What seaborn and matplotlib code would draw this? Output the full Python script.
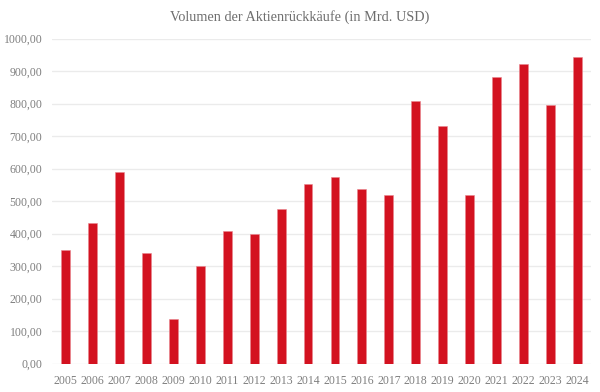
import matplotlib
matplotlib.use("Agg")
import matplotlib.pyplot as plt
import seaborn as sns
import pandas as pd
from matplotlib.ticker import FuncFormatter, MultipleLocator

years = [str(y) for y in range(2005, 2025)]
values = [349, 432, 589, 339, 137, 299, 409, 398, 475, 553,
          573, 536, 520, 807, 730, 520, 882, 923, 795, 943]
title = "Volumen der Aktienrückkäufe (in Mrd. USD)"

df = pd.DataFrame({"Jahr": years, "Volumen": values})

sns.set_theme(style="white")
plt.rcParams["font.family"] = ["Liberation Serif", "DejaVu Serif"]

fig = plt.figure(figsize=(6.0, 3.92), dpi=100)
ax = fig.add_axes([52/600, 1 - 363.5/392, (591 - 52)/600, (363.5 - 38.5)/392])

sns.barplot(data=df, x="Jahr", y="Volumen", color="#D31220", width=0.33,
            saturation=1, edgecolor="#E9868E", linewidth=0.4, ax=ax, zorder=3)

ax.set_ylim(0, 1000)
ax.set_xlim(-0.5, len(years) - 0.5)
ax.yaxis.set_major_locator(MultipleLocator(100))
ax.yaxis.set_major_formatter(FuncFormatter(lambda v, p: f"{v:.2f}".replace(".", ",")))
ax.grid(axis="y", color="#EBEBEB", linewidth=1.0, zorder=0)
ax.set_axisbelow(True)
for s in ax.spines.values():
    s.set_visible(False)
ax.set_xlabel("")
ax.set_ylabel("")
ax.tick_params(axis="both", length=0, labelsize=8.5, colors="#7F7F7F")
ax.tick_params(axis="x", pad=8)
ax.tick_params(axis="y", pad=7)
fig.text(0.5, 1 - 17/392, title, ha="center", va="center", fontsize=10.3, color="#6E6E6E")

fig.savefig("out.png", dpi=100)
